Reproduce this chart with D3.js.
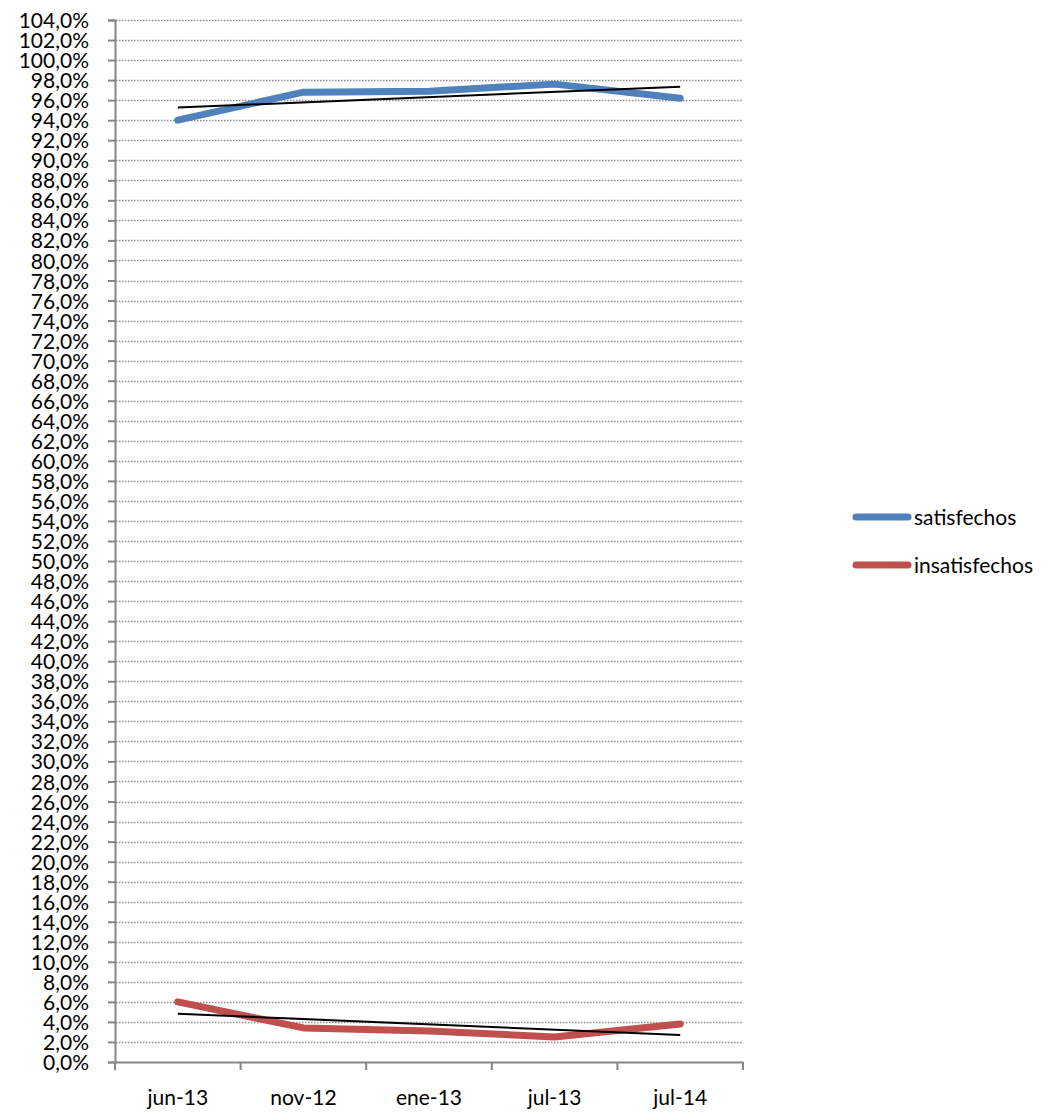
<!DOCTYPE html>
<html><head><meta charset="utf-8">
<script src="https://cdn.jsdelivr.net/npm/d3@7"></script>
<style>body{margin:0;background:#fff}svg{display:block}</style>
</head><body>
<script>
const categories = ["jun-13","nov-12","ene-13","jul-13","jul-14"];
const satisfechos = [0.940,0.968,0.969,0.976,0.962];
const insatisfechos = [0.060,0.034,0.031,0.025,0.038];
const seriesNames = ["satisfechos","insatisfechos"];
const seriesColors = ["#4F81BD","#C0504D"];
const yTicks = d3.range(0, 53).map(i => i * 0.02);

const W = 1061, H = 1113;
const svg = d3.select("body").append("svg").attr("width", W).attr("height", H);
const FONT = "Lato, 'Open Sans', sans-serif";

const x = d3.scaleBand().domain(categories).range([115, 743]).padding(0);
const y = d3.scaleLinear().domain([0, 1.04]).range([1062, 20]);
const fmt = v => (v * 100).toFixed(1).replace(".", ",") + "%";

// gridlines
svg.append("g").selectAll("line").data(yTicks.filter(d => d > 0)).join("line")
  .attr("x1", 116).attr("x2", 743)
  .attr("y1", d => Math.round(y(d)) + 0.5).attr("y2", d => Math.round(y(d)) + 0.5)
  .attr("stroke", "#8e8e8e").attr("stroke-width", 1.5).attr("stroke-dasharray", "1.5,1.5");

// y axis
const yAxis = d3.axisLeft(y).tickValues(yTicks).tickFormat(fmt).tickSize(7).tickPadding(19);
const gy = svg.append("g").attr("transform", "translate(115,0)").call(yAxis);
gy.select(".domain").attr("stroke", "#868686").attr("stroke-width", 2);
gy.selectAll(".tick line").attr("stroke", "#868686").attr("stroke-width", 2);
gy.selectAll(".tick text").attr("font-family", FONT).attr("font-size", 21).attr("fill", "#000").attr("dy", "0.36em");

// x axis
const xAxis = d3.axisBottom(x).tickSize(0).tickPadding(28);
const gx = svg.append("g").attr("transform", "translate(0,1062)").call(xAxis);
gx.select(".domain").attr("stroke", "#868686").attr("stroke-width", 2);
gx.selectAll(".tick text").attr("font-family", FONT).attr("font-size", 21).attr("fill", "#000");
const bounds = categories.map(c => x(c)).concat([x.range()[1]]);
gx.selectAll(".bt").data(bounds).join("line").attr("class", "bt")
  .attr("x1", d => d).attr("x2", d => d).attr("y1", 0).attr("y2", 8)
  .attr("stroke", "#868686").attr("stroke-width", 2);

const cx = c => x(c) + x.bandwidth() / 2;
const line = d3.line().x(d => cx(d.c)).y(d => y(d.v));

function trend(vals) {
  const n = vals.length, xs = vals.map((_, i) => i + 1);
  const mx = d3.mean(xs), my = d3.mean(vals);
  const slope = d3.sum(xs.map((xx, i) => (xx - mx) * (vals[i] - my))) / d3.sum(xs.map(xx => (xx - mx) ** 2));
  return xs.map(xx => my + slope * (xx - mx));
}

[satisfechos, insatisfechos].forEach((vals, k) => {
  const data = categories.map((c, i) => ({c, v: vals[i]}));
  svg.append("path").datum(data).attr("d", line).attr("fill", "none")
    .attr("stroke", seriesColors[k]).attr("stroke-width", 7)
    .attr("stroke-linecap", "round").attr("stroke-linejoin", "round");
});
[satisfechos, insatisfechos].forEach(vals => {
  const t = trend(vals);
  const data = [{c: categories[0], v: t[0]}, {c: categories[categories.length - 1], v: t[t.length - 1]}];
  svg.append("path").datum(data).attr("d", line).attr("fill", "none")
    .attr("stroke", "#000").attr("stroke-width", 2);
});

// legend
const lg = svg.append("g");
seriesNames.forEach((name, i) => {
  const yy = 517 + i * 48;
  lg.append("line").attr("x1", 856).attr("x2", 908).attr("y1", yy).attr("y2", yy)
    .attr("stroke", seriesColors[i]).attr("stroke-width", 7).attr("stroke-linecap", "round");
  lg.append("text").attr("x", 914).attr("y", yy).attr("dy", "0.36em")
    .attr("font-family", FONT).attr("font-size", 21).attr("fill", "#000").text(name);
});
</script>
</body></html>
